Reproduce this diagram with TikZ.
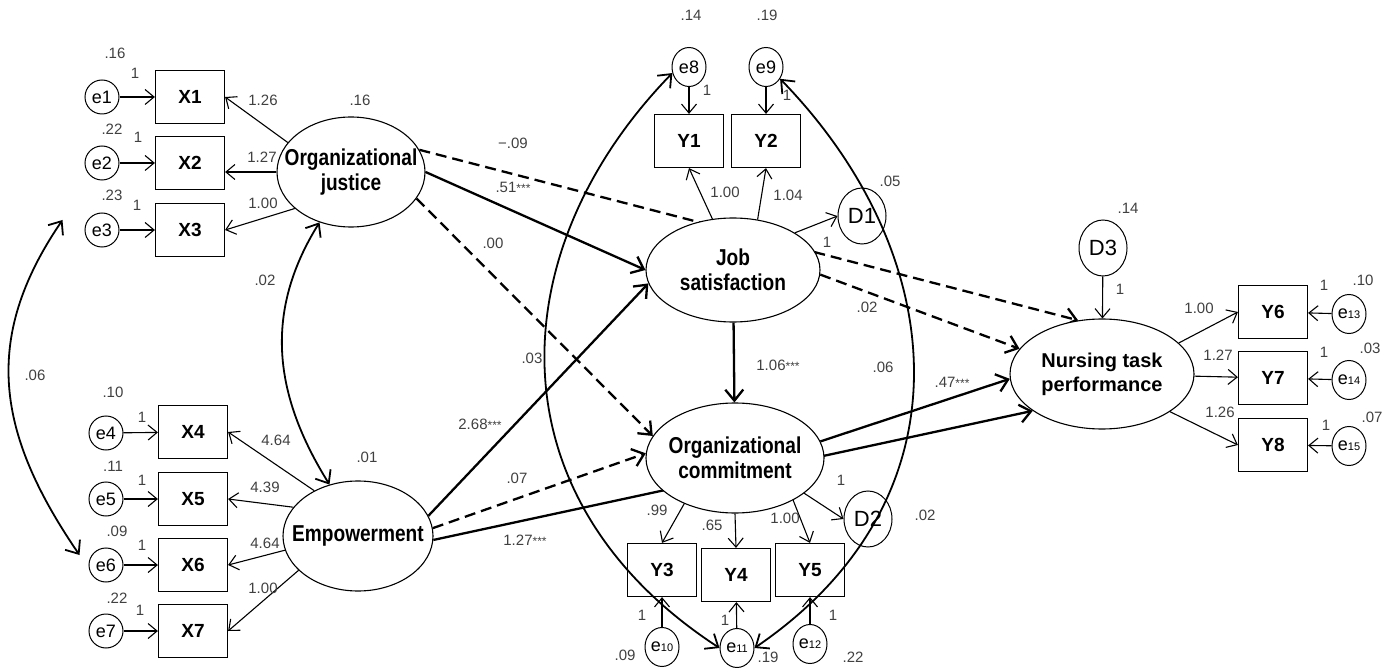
\documentclass[tikz,border=0pt]{standalone}
\usepackage{fontspec}
\setmainfont{Liberation Sans}
\newfontfamily\latfont[FakeStretch=0.83]{Liberation Sans}
\usetikzlibrary{arrows.meta, shapes.geometric, backgrounds}
\newcommand{\sig}{{\fontsize{12}{12}\selectfont***}}
\newcommand{\esub}[1]{{\fontsize{11}{11}\selectfont #1}}

\begin{document}
\begin{tikzpicture}[x=1pt, y=-1pt,
            obs/.style = {rectangle, draw, line width=1.2pt, fill=white, minimum width=69pt, minimum height=53pt, font=\fontsize{19}{19}\selectfont\bfseries},
            err/.style = {ellipse, draw, line width=1pt, fill=white, minimum width=34pt, minimum height=39pt, inner sep=0pt, font=\fontsize{18}{18}\selectfont},
            dis/.style = {ellipse, draw, line width=1pt, fill=white, minimum width=48pt, minimum height=56pt, inner sep=0pt, font=\fontsize{22}{22}\selectfont},
            lat/.style = {ellipse, draw, line width=1.1pt, fill=white, inner ysep=0pt, inner xsep=-20pt, align=center, font=\latfont\fontsize{23}{25}\selectfont\bfseries},
            val/.style = {inner sep=0pt, text=black!75, font=\fontsize{15}{15}\selectfont},
            load/.style = {-{Straight Barb[length=9pt, width=15pt]}, line width=1.1pt},
            effect/.style = {-{Straight Barb[length=11pt, width=18pt]}, line width=2.3pt},
            nseffect/.style = {effect, dash pattern=on 11pt off 6pt},
            cov/.style = {{Straight Barb[length=11pt, width=18pt]}-{Straight Barb[length=11pt, width=18pt]}, line width=1.8pt}]
            \useasboundingbox (0,0) rectangle (1395,668);
            % nodes
            \begin{scope}[every node/.style={obs}]
            \node (X1) at (190,97) {X1};
            \node (X2) at (190,163) {X2};
            \node (X3) at (190,230) {X3};
            \node (X4) at (193,432) {X4};
            \node (X5) at (193,499) {X5};
            \node (X6) at (193,565) {X6};
            \node (X7) at (193,631) {X7};
            \node (Y1) at (689,141) {Y1};
            \node (Y2) at (766,141) {Y2};
            \node (Y3) at (662,570) {Y3};
            \node (Y4) at (736,575) {Y4};
            \node (Y5) at (810,570) {Y5};
            \node (Y6) at (1273,312) {Y6};
            \node (Y7) at (1273,378) {Y7};
            \node (Y8) at (1273,445) {Y8};
            \end{scope}
            \begin{scope}[every node/.style={err, minimum height=34pt}]
            \node (e1) at (102,97) {e1};
            \node (e2) at (102,163) {e2};
            \node (e3) at (102,230) {e3};
            \node (e4) at (106,433) {e4};
            \node (e5) at (106,499) {e5};
            \node (e6) at (106,565) {e6};
            \node (e7) at (106,631) {e7};
            \end{scope}
            \begin{scope}[every node/.style={err}]
            \node (e8) at (689,67) {e8};
            \node (e9) at (766,67) {e9};
            \node (e10) at (662,647) {e\esub{10}};
            \node (e11) at (737,648) {e\esub{11}};
            \node (e12) at (810,644) {e\esub{12}};
            \node (e13) at (1349,314) {e\esub{13}};
            \node (e14) at (1349,380) {e\esub{14}};
            \node (e15) at (1349,446) {e\esub{15}};
            \end{scope}
            \begin{scope}[every node/.style={dis}]
            \node (D1) at (862,216) {D1};
            \node (D2) at (868,519) {D2};
            \node (D3) at (1103,248) {D3};
            \end{scope}
            \node[lat, minimum width=148pt, minimum height=110pt] (OJ) at (351,172) {Organizational\\justice};
            \node[lat, minimum width=150pt, minimum height=110pt] (EMP) at (358,536) {Empowerment};
            \node[lat, minimum width=174pt, minimum height=104pt] (JS) at (733,270) {Job\\satisfaction};
            \node[lat, minimum width=178pt, minimum height=110pt] (OC) at (735,458) {Organizational\\commitment};
            \node[lat, minimum width=184pt, minimum height=110pt, font=\fontsize{20}{24}\selectfont\bfseries] (NTP) at (1102,374) {Nursing task\\performance};
            % Connections
            \begin{scope}[on background layer]
            \draw [nseffect] (OJ.18) -- (NTP.114);
            \draw [effect] (EMP.357) -- (NTP.208);
            \end{scope}
            \draw [load] (e1) -- (X1);
            \draw [load] (e2) -- (X2);
            \draw [load] (e3) -- (X3);
            \draw [load] (e4) -- (X4);
            \draw [load] (e5) -- (X5);
            \draw [load] (e6) -- (X6);
            \draw [load] (e7) -- (X7);
            \draw [load] (OJ.155) -- (X1.east);
            \draw [load] (OJ.west) -- (OJ.west -| X2.east);
            \draw [load] (OJ.213) -- (X3.east);
            \draw [load] (EMP.134) -- (X4.east);
            \draw [load] (EMP.156) -- (X5.east);
            \draw [load] (EMP.191) -- (X6.east);
            \draw [load] (EMP.210) -- (X7.east);
            \draw [load] (e8) -- (Y1);
            \draw [load] (e9) -- (Y2);
            \draw [load] (JS.112) -- (Y1.south);
            \draw [load] (JS.64) -- (Y2.south);
            \draw [load] (JS.31) -- (D1.west);
            \draw [load] (OC.222) -- (Y3.north);
            \draw [load] (OC.south) -- (Y4.north);
            \draw [load] (OC.324) -- (Y5.north);
            \draw [load] (OC.333) -- (D2.west);
            \draw [load] (e10) -- (Y3);
            \draw [load] (e11) -- (Y4);
            \draw [load] (e12) -- (Y5);
            \draw [load] (D3) -- (NTP);
            \draw [load] (NTP.22) -- (Y6.west);
            \draw [load] (NTP) -- (Y7);
            \draw [load] (NTP.331) -- (Y8.west);
            \draw [load] (e13) -- (Y6);
            \draw [load] (e14) -- (Y7);
            \draw [load] (e15) -- (Y8);
            \draw [effect] (OJ.east) -- (JS.west);
            \draw [nseffect] (OJ.338) -- (OC.165);
            \draw [effect] (EMP.16) -- (JS.189);
            \draw [nseffect] (EMP.6) -- (OC.177);
            \draw [effect] (JS) -- (OC);
            \draw [nseffect] (JS.357) -- (NTP.163);
            \draw [effect] (OC.11) -- (NTP.183);
            \draw [cov] (OJ.238) .. controls +(-56,90) and +(-56,-90) .. (EMP.119);
            \draw [cov] ([shift={(-22,-10)}]e3.west) .. controls +(-82,120) and +(-82,-120) .. ([shift={(-9,-10)}]e6.west);
            \draw [cov] (e8.200) .. controls +(-172,177) and +(-230,-150) .. (e11.west);
            \draw [cov] (e9.320) .. controls +(170,175) and +(220,-150) .. (e11.east);
            % Text
            \begin{scope}[every node/.style={val}]
            \node (ve1) at (115,53) {.16};   \node (fe1) at (135,73) {1};
            \node (ve2) at (112,129) {.22};  \node (fe2) at (138,137) {1};
            \node (ve3) at (112,195) {.23};  \node (fe3) at (137,205) {1};
            \node (ve4) at (113,392) {.10};  \node (fe4) at (142,417) {1};
            \node (ve5) at (113,466) {.11};  \node (fe5) at (142,480) {1};
            \node (ve6) at (117,531) {.09};  \node (fe6) at (142,545) {1};
            \node (ve7) at (117,598) {.22};  \node (fe7) at (140,610) {1};
            \node (wX1) at (263,100) {1.26};
            \node (wX2) at (262,157) {1.27};
            \node (wX3) at (263,203) {1.00};
            \node (wX4) at (276,440) {4.64};
            \node (wX5) at (265,487) {4.39};
            \node (wX6) at (265,543) {4.64};
            \node (wX7) at (263,588) {1.00};
            \node (vOJ) at (360,100) {.16};
            \node (vEMP) at (367,457) {.01};
            \node (cOJ) at (265,280) {.02};
            \node (ce36) at (35,375) {.06};
            \node (ve8) at (691,15) {.14};   \node (fe8) at (707,90) {1};
            \node (ve9) at (767,15) {.19};   \node (fe9) at (787,95) {1};
            \node (wY1) at (725,192) {1.00};
            \node (wY2) at (788,195) {1.04};
            \node (vD1) at (890,181) {.05};  \node (fD1) at (827,242) {1};
            \node (bOJNTP) at (513,143) {−.09};
            \node (bOJJS) at (513,187) {.51\sig};
            \node (bOJOC) at (493,243) {.00};
            \node (ce811) at (532,358) {.03};
            \node (bEMPJS) at (480,424) {2.68\sig};
            \node (bEMPOC) at (517,478) {.07};
            \node (bEMPNTP) at (525,540) {1.27\sig};
            \node (bJSOC) at (778,365) {1.06\sig};
            \node (ce911) at (883,367) {.06};
            \node (bJSNTP) at (867,307) {.02};
            \node (bOCNTP) at (952,382) {.47\sig};
            \node (wY3) at (657,510) {.99};
            \node (wY4) at (712,525) {.65};
            \node (wY5) at (785,518) {1.00};
            \node (vD2) at (925,515) {.02};  \node (fD2) at (841,480) {1};
            \node (fe10) at (642,615) {1};   \node (ve10) at (625,655) {.09};
            \node (fe11) at (725,620) {1};   \node (ve11) at (768,657) {.19};
            \node (fe12) at (833,615) {1};   \node (ve12) at (853,657) {.22};
            \node (vD3) at (1128,208) {.14}; \node (fD3) at (1120,289) {1};
            \node (wY6) at (1199,308) {1.00};
            \node (wY7) at (1218,355) {1.27};
            \node (wY8) at (1220,412) {1.26};
            \node (fe13) at (1324,285) {1};  \node (ve13) at (1363,280) {.10};
            \node (fe14) at (1324,352) {1};  \node (ve14) at (1370,348) {.03};
            \node (fe15) at (1326,425) {1};  \node (ve15) at (1372,417) {.07};
            \end{scope}
        \end{tikzpicture}
\end{document}
